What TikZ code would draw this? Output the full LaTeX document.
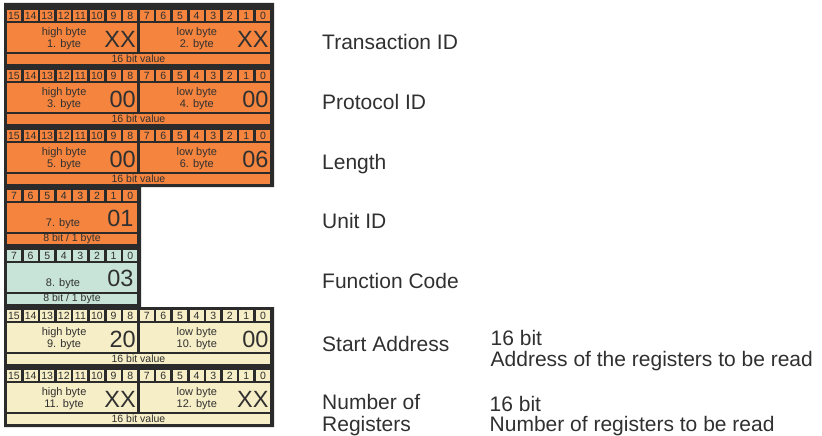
\documentclass[tikz,border=0pt]{standalone}
\usepackage{fontspec}
\setmainfont{Liberation Sans}

\definecolor{frameGray}{HTML}{2B2B2B}
\definecolor{inkGray}{HTML}{303030}
\definecolor{mbOrange}{HTML}{F4843E}
\definecolor{mbMint}{HTML}{C8E4D9}
\definecolor{mbCream}{HTML}{F6EEC6}

\begin{document}
\begin{tikzpicture}[
  x=1pt, y=-1pt,
  bitcell/.style = {fill=#1, minimum width=14pt, minimum height=11pt, inner sep=0pt,
                    text=inkGray, font=\fontsize{10.5}{11}\selectfont},
  bytebox/.style = {fill=#1, minimum height=29pt, inner sep=0pt},
  valuebar/.style = {fill=#1, minimum height=10.5pt, inner sep=0pt,
                     text=inkGray, font=\fontsize{10.5}{11}\selectfont},
  byteinfo/.style = {text=inkGray, align=center, inner sep=0pt, font=\fontsize{11}{12}\selectfont},
  bytevalue/.style = {text=inkGray, inner sep=0pt, anchor=base east, font=\fontsize{23.5}{24}\selectfont},
  field/.style = {text=inkGray, inner sep=0pt, anchor=base west, font=\fontsize{21}{22}\selectfont}
]
  \useasboundingbox (0,0) rectangle (822,436);

  % dark frame behind the telegram, narrow for the two 8 bit fields
  \fill[frameGray] (4,3) -- (274,3) -- (274,187) -- (141,187) -- (141,307)
    -- (274,307) -- (274,427) -- (4,427) -- cycle;

  % bit number cells
  \foreach \blk/\top/\col/\bits in {tid/10/mbOrange/16, pid/70/mbOrange/16, len/130/mbOrange/16,
      uid/190/mbOrange/8, fc/250/mbMint/8, sa/310/mbCream/16, nr/370/mbCream/16}{
    \foreach \i in {1,...,\bits}{
      \pgfmathtruncatemacro\bitno{\bits-\i}
      \node[bitcell=\col] (\blk-bit\bitno) at (16.6*\i-2.6, \top+5.5) {\bitno};
    }
  }

  % 16 bit fields: high byte / low byte
  \foreach \blk/\top/\col/\hn/\ln/\hv/\lv in {tid/10/mbOrange/1/2/XX/XX, pid/70/mbOrange/3/4/00/00,
      len/130/mbOrange/5/6/00/06, sa/310/mbCream/9/10/20/00, nr/370/mbCream/11/12/XX/XX}{
    \node[bytebox=\col, minimum width=130.2pt] (\blk-hi) at (72.1, \top+27.5) {};
    \node[bytebox=\col, minimum width=130.4pt] (\blk-lo) at (204.8, \top+27.5) {};
    \node[byteinfo] (\blk-hitxt) at ([xshift=-8pt,yshift=-1.5pt]\blk-hi.center) {high byte\\\hn. byte};
    \node[byteinfo] (\blk-lotxt) at ([xshift=-8pt,yshift=-1.5pt]\blk-lo.center) {low byte\\\ln. byte};
    \node[bytevalue] (\blk-hival) at ([xshift=-1.5pt,yshift=5pt]\blk-hi.south east) {\hv};
    \node[bytevalue] (\blk-loval) at ([xshift=-1.5pt,yshift=5pt]\blk-lo.south east) {\lv};
    \node[valuebar=\col, minimum width=263pt] (\blk-val) at (138.5, \top+49) {16 bit value};
  }

  % 8 bit fields
  \foreach \blk/\top/\col/\n/\v in {uid/190/mbOrange/7/01, fc/250/mbMint/8/03}{
    \node[bytebox=\col, minimum width=130pt] (\blk-byte) at (72, \top+27.5) {};
    \node[byteinfo, anchor=base] (\blk-txt) at ([xshift=-9pt,yshift=5.5pt]\blk-byte.south) {\n. byte};
    \node[bytevalue] (\blk-bval) at ([xshift=-3.5pt,yshift=6pt]\blk-byte.south east) {\v};
    \node[valuebar=\col, minimum width=130pt] (\blk-val) at (72, \top+49) {8 bit / 1 byte};
  }

  % field names
  \node[field] (tid-lbl) at (322,49.5) {Transaction ID};
  \node[field] (pid-lbl) at (322,109.5) {Protocol ID};
  \node[field] (len-lbl) at (322,169) {Length};
  \node[field] (uid-lbl) at (322,228.5) {Unit ID};
  \node[field] (fc-lbl) at (322,288) {Function Code};
  \node[field] (sa-lbl) at (322,351) {Start Address};
  \node[field] (nr-lbl) at (322,409.5) {Number of};
  \node[field] (nr-lbl2) at ([yshift=-21.5pt]nr-lbl.base west) {Registers};

  % field descriptions
  \node[field] (sa-bits) at (490.5,345) {16 bit};
  \node[field] (sa-desc) at ([yshift=-21.5pt]sa-bits.base west) {Address of the registers to be read};
  \node[field] (nr-bits) at (489.5,411) {16 bit};
  \node[field] (nr-desc) at ([yshift=-20.5pt]nr-bits.base west) {Number of registers to be read};

\end{tikzpicture}
\end{document}
